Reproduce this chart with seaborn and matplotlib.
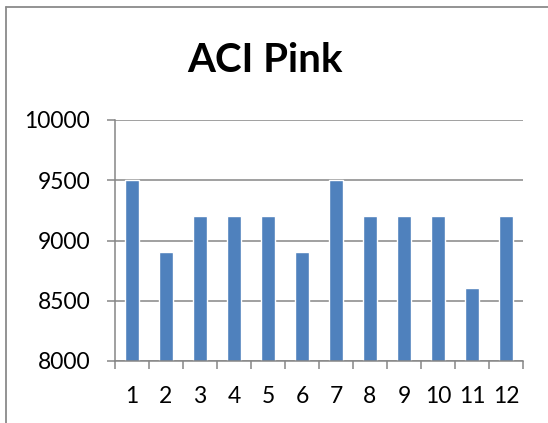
import matplotlib
matplotlib.use("Agg")
import matplotlib.pyplot as plt
import seaborn as sns
import pandas as pd
from matplotlib.lines import Line2D

# Monthly values for ACI Pink
months = ["1", "2", "3", "4", "5", "6", "7", "8", "9", "10", "11", "12"]
values = [9500, 8905, 9200, 9200, 9205, 8905, 9500, 9200, 9200, 9205, 8605, 9200]
y_ticks = [8000, 8500, 9000, 9500, 10000]
title = "ACI Pink"

df = pd.DataFrame({"month": months, "value": values})

sns.set_theme(style="white")
plt.rcParams["font.family"] = ["Lato", "DejaVu Sans"]

W, H = 548, 423
fig = plt.figure(figsize=(W / 100, H / 100), dpi=100)
fig.patch.set_facecolor("white")

ax = fig.add_axes([115 / W, (H - 361) / H, 408 / W, 241 / H])
grid_c = "#868686"

sns.barplot(data=df, x="month", y="value", color="#4F81BD", saturation=1,
            width=0.39, ax=ax, zorder=3)

ax.set_ylim(8000, 10000)
ax.set_xlim(-0.5, len(months) - 0.5)
ax.set_yticks(y_ticks)
ax.set_yticklabels([str(t) for t in y_ticks])
ax.yaxis.grid(True, color=grid_c, linewidth=1.1, zorder=0)
ax.set_axisbelow(True)
ax.set_xlabel("")
ax.set_ylabel("")

for s in ["top", "right"]:
    ax.spines[s].set_visible(False)
for s in ["left", "bottom"]:
    ax.spines[s].set_color(grid_c)
    ax.spines[s].set_linewidth(1.1)
ax.spines["bottom"].set_zorder(4)

# category boundaries carry the x tick marks
ax.set_xticks([i - 0.5 for i in range(len(months) + 1)], minor=True)
ax.tick_params(axis="x", which="minor", bottom=True, length=5.8, width=1.1, color=grid_c)
ax.tick_params(axis="x", which="major", bottom=False, length=0, pad=18, labelsize=16.5,
               labelcolor="black")
ax.tick_params(axis="y", which="major", left=True, length=5.8, width=1.1, color=grid_c,
               pad=12, labelsize=16.5, labelcolor="black")

fig.text(265 / W, 1 - 60 / H, title, ha="center", va="center",
         fontsize=29, fontweight="bold", color="black")

# chart frame (left and top edges fall inside the image)
fig.add_artist(Line2D([5.5 / W, 5.5 / W], [0, 1 - 7.5 / H], transform=fig.transFigure,
                      color="#8a8a8a", linewidth=1.3))
fig.add_artist(Line2D([5.5 / W, 1], [1 - 7.5 / H, 1 - 7.5 / H], transform=fig.transFigure,
                      color="#8a8a8a", linewidth=1.3))

fig.savefig("out.png", dpi=100)
